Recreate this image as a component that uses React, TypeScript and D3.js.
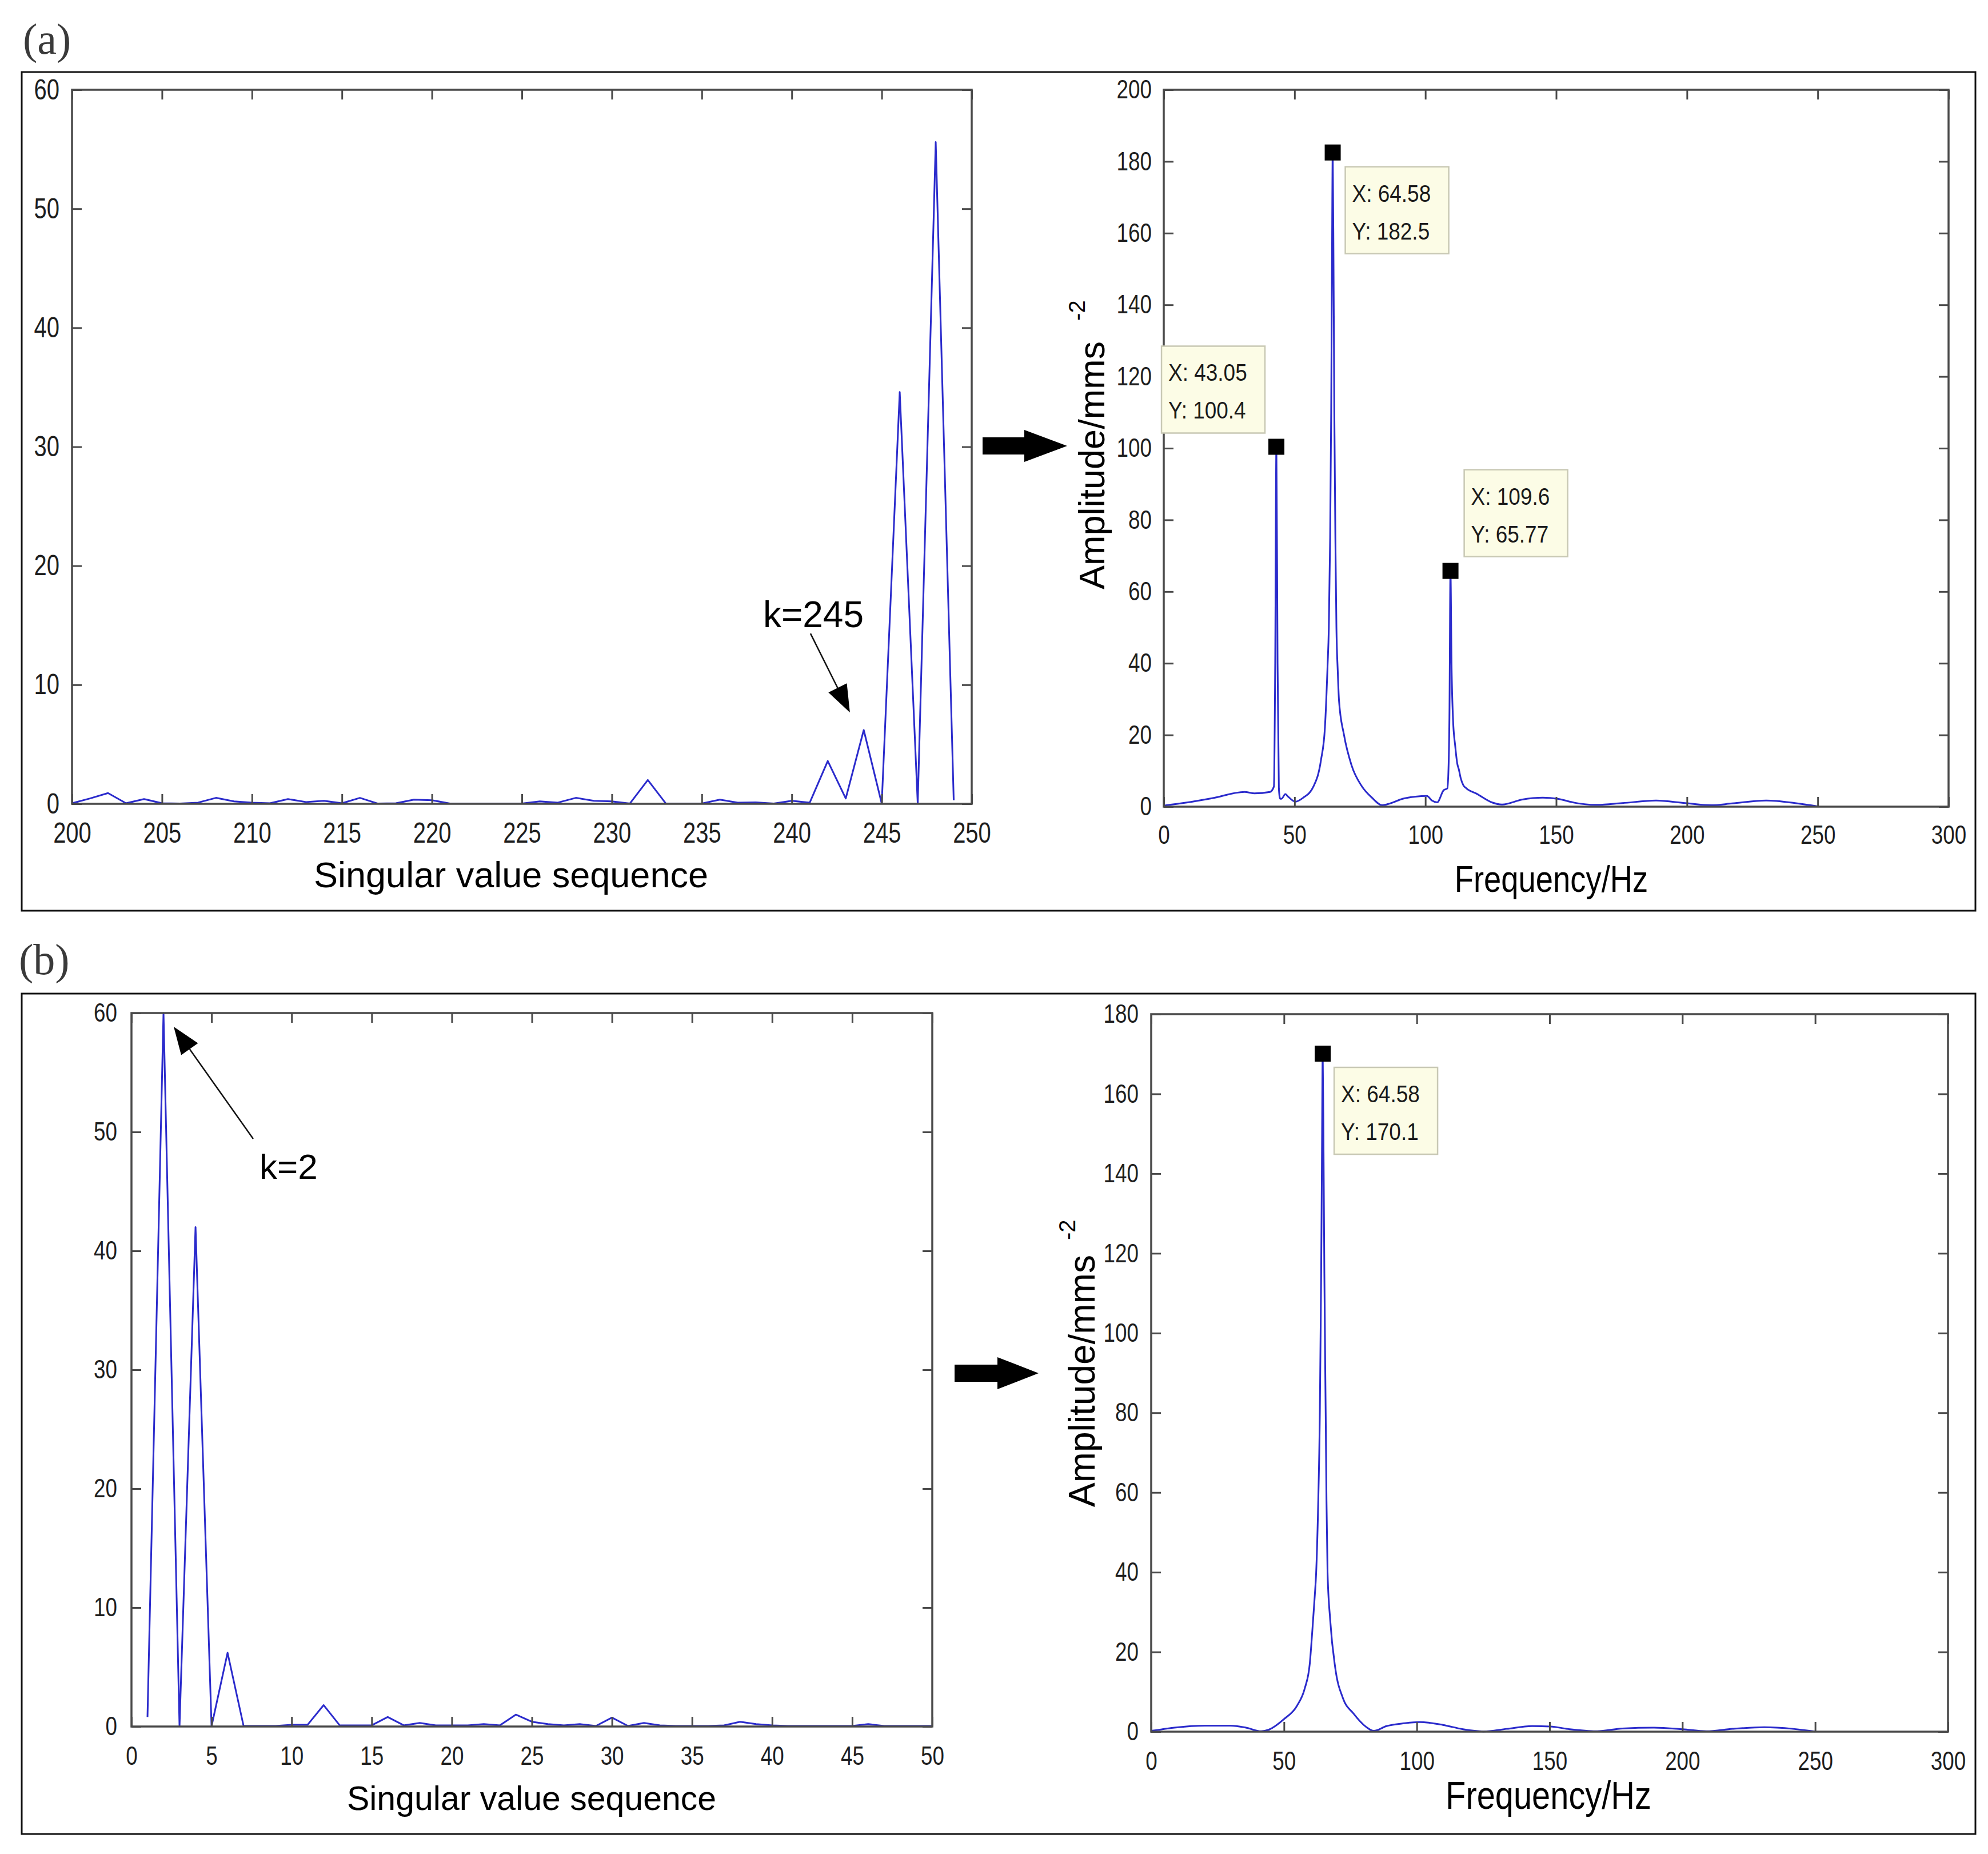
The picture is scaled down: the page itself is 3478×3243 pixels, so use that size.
import React, { useEffect, useRef } from "react";
import * as d3 from "d3";

const WIDTH = 3478;
const HEIGHT = 3243;

// (a) singular values, sequence index 200..249
const svStartA = 200;
const svValuesA = [
  0.05, 0.45, 0.9, 0.05, 0.4, 0.05, 0.03, 0.1, 0.5, 0.2,
  0.1, 0.05, 0.4, 0.15, 0.25, 0.05, 0.5, 0.02, 0.05, 0.35,
  0.3, 0.03, 0.02, 0.02, 0.02, 0.03, 0.2, 0.1, 0.5, 0.25,
  0.2, 0.02, 2.0, 0.03, 0.02, 0.03, 0.35, 0.1, 0.12, 0.02,
  0.25, 0.1, 3.6, 0.45, 6.2, 0.02, 34.6, 0.02, 55.6, 0.3,
];

// (b) singular values, sequence index 1..50
const svStartB = 1;
const svValuesB = [
  0.8, 60, 0.02, 42, 0.02, 6.2, 0.05, 0.05, 0.05, 0.15,
  0.15, 1.8, 0.1, 0.1, 0.1, 0.8, 0.1, 0.3, 0.1, 0.1,
  0.1, 0.2, 0.1, 1.0, 0.4, 0.2, 0.1, 0.2, 0.05, 0.75,
  0.05, 0.3, 0.1, 0.05, 0.05, 0.05, 0.1, 0.4, 0.2, 0.1,
  0.05, 0.05, 0.05, 0.05, 0.05, 0.2, 0.05, 0.05, 0.05, 0.05,
];

// amplitude spectra [frequency Hz, amplitude]
const spectrumA: [number, number][] = [
  [0, 0.3], [8.4, 1.1], [18.2, 2.3], [30.9, 4.1], [34.7, 3.7], [40.6, 4.1],
  [42.1, 5.6], [42.6, 40], [43.05, 100.4], [43.5, 40], [44.0, 5], [44.5, 2.2],
  [45.0, 2.2], [46.5, 3.5], [47.4, 2.9], [50.3, 1.4], [53.3, 2.5], [57.2, 5.6],
  [60.1, 13], [61.6, 22], [62.6, 39], [63.1, 50], [63.6, 75], [64.0, 110],
  [64.3, 150], [64.58, 182.5], [64.9, 150], [65.2, 110], [65.6, 75], [66.0, 50],
  [66.5, 38], [67.0, 29.5], [68.9, 20], [71.8, 11.5], [75.7, 5.7], [79.6, 2.5],
  [83.5, 0.4], [86.5, 0.9], [91.3, 2.2], [96.2, 2.8], [100.6, 3.0], [102.5, 1.7],
  [104.5, 1.2], [107.0, 4.6], [108.4, 5.1], [108.9, 12], [109.2, 25], [109.6, 65.77],
  [110.0, 40], [110.6, 24], [111.4, 17], [112.2, 12], [112.8, 10.4], [113.5, 8],
  [114.5, 6], [115.7, 5.1], [119.6, 3.6], [125.4, 1.2], [129.3, 0.6], [137.1, 2.0],
  [144.9, 2.5], [150.5, 2.2], [157, 1.1], [165, 0.5], [175.3, 1.0], [188.2, 1.7],
  [199.3, 1.0], [209.3, 0.4], [217.3, 0.9], [230.3, 1.7], [241.3, 1.0], [250, 0.1],
];

const spectrumB: [number, number][] = [
  [0, 0.2], [8.7, 1.0], [20.3, 1.5], [29.9, 1.5], [35.7, 1.0], [41.4, 0.1],
  [44.3, 0.5], [50.1, 3.2], [54.9, 6.5], [57.8, 10.8], [59.7, 17], [60.7, 25.6],
  [61.6, 34.2], [62.1, 39.7], [62.8, 55], [63.5, 80], [64.0, 115], [64.3, 145],
  [64.58, 170.1], [64.9, 145], [65.2, 115], [65.7, 80], [66.0, 58], [66.4, 40],
  [67.4, 28], [69.3, 16], [72.2, 8.4], [76.1, 4.6], [80.9, 1.2], [83.8, 0.2],
  [88.6, 1.4], [95.3, 2.1], [101.1, 2.4], [109.8, 1.7], [117.4, 0.6], [125.1, 0.05],
  [133.8, 0.7], [143.4, 1.4], [150.2, 1.3], [157.6, 0.6], [167.5, 0.1], [177.4, 0.8],
  [189.3, 1.0], [200.1, 0.6], [209.0, 0.1], [218.9, 0.7], [230.8, 1.1], [241.7, 0.7],
  [250, 0.05],
];

// data tips (values shown in the boxes)
const tipsA = [
  { x: 64.58, y: 182.5 },
  { x: 43.05, y: 100.4 },
  { x: 109.6, y: 65.77 },
];
const tipsB = [{ x: 64.58, y: 170.1 }];

// tick values
const svTicksA = [200, 205, 210, 215, 220, 225, 230, 235, 240, 245, 250];
const svTicksB = [0, 5, 10, 15, 20, 25, 30, 35, 40, 45, 50];
const svYTicks = [0, 10, 20, 30, 40, 50, 60];
const freqTicks = [0, 50, 100, 150, 200, 250, 300];
const ampTicksA = [0, 20, 40, 60, 80, 100, 120, 140, 160, 180, 200];
const ampTicksB = [0, 20, 40, 60, 80, 100, 120, 140, 160, 180];

// annotations, in data units of the singular value plots
const noteA = { label: "k=245", tip: [243.23, 7.68], tail: [241.04, 14.31], text: [241.2, 14.84] };
const noteB = { label: "k=2", tip: [2.64, 58.85], tail: [7.6, 49.42], text: [9.81, 46.06] };

// ---- layout (pixels) ----
const tipOffsetsA = [
  { dx: 22, dy: 25 },
  { dx: -201, dy: -176 },
  { dx: 24, dy: -177 },
];
const tipOffsetsB = [{ dx: 20, dy: 24 }];

const FRAME = "#4a4a4a";
const LINE = "#2b2bcc";
const SANS = "'Liberation Sans', Arial, Helvetica, sans-serif";
const SERIF = "'Liberation Serif', 'Times New Roman', serif";

type Sel = d3.Selection<any, unknown, null, undefined>;

// squeeze text horizontally (the original uses a narrow MATLAB font)
const condense = (sel: d3.Selection<any, any, any, any>, k: number) => {
  sel.each(function (this: SVGTextElement) {
    const w = this.getComputedTextLength();
    if (w > 0) {
      d3.select(this).attr("textLength", w * k).attr("lengthAdjust", "spacingAndGlyphs");
    }
  });
};

const drawFrame = (
  svg: Sel,
  x: d3.ScaleLinear<number, number>,
  y: d3.ScaleLinear<number, number>,
  xTicks: number[],
  yTicks: number[],
  tickFont: number,
  xPad: number,
  yPad: number
) => {
  const g = svg.append("g");
  const [x0, x1] = x.range();
  const [y0, y1] = y.range();
  const tickLen = 17;

  g.append("g")
    .attr("transform", `translate(0,${y0})`)
    .call(d3.axisBottom(x).tickValues(xTicks).tickSizeInner(-tickLen).tickSizeOuter(0).tickPadding(xPad));
  g.append("g")
    .attr("transform", `translate(0,${y1})`)
    .call(d3.axisTop(x).tickValues(xTicks).tickSizeInner(-tickLen).tickSizeOuter(0).tickFormat(() => ""));
  g.append("g")
    .attr("transform", `translate(${x0},0)`)
    .call(d3.axisLeft(y).tickValues(yTicks).tickSizeInner(-tickLen).tickSizeOuter(0).tickPadding(yPad));
  g.append("g")
    .attr("transform", `translate(${x1},0)`)
    .call(d3.axisRight(y).tickValues(yTicks).tickSizeInner(-tickLen).tickSizeOuter(0).tickFormat(() => ""));

  g.selectAll(".domain").remove();
  g.selectAll(".tick line").attr("stroke", FRAME).attr("stroke-width", 3);
  const labels = g
    .selectAll(".tick text")
    .attr("font-family", SANS)
    .attr("font-size", tickFont)
    .attr("fill", "#1e1e1e");
  condense(labels, 0.8);

  g.append("rect")
    .attr("x", x0)
    .attr("y", y1)
    .attr("width", x1 - x0)
    .attr("height", y0 - y1)
    .attr("fill", "none")
    .attr("stroke", FRAME)
    .attr("stroke-width", 3.5);
};

const drawBlockArrow = (svg: Sel, a: { x0: number; xh: number; x1: number; y: number }) => {
  const shaft = 15;
  const head = 28;
  const pts = [
    [a.x0, a.y - shaft],
    [a.xh, a.y - shaft],
    [a.xh, a.y - head],
    [a.x1, a.y],
    [a.xh, a.y + head],
    [a.xh, a.y + shaft],
    [a.x0, a.y + shaft],
  ];
  svg.append("polygon").attr("points", pts.map((p) => p.join(",")).join(" ")).attr("fill", "#000");
};

const drawNote = (
  svg: Sel,
  x: d3.ScaleLinear<number, number>,
  y: d3.ScaleLinear<number, number>,
  note: { label: string; tip: number[]; tail: number[]; text: number[] },
  fontSize: number
) => {
  const tx = x(note.tip[0]);
  const ty = y(note.tip[1]);
  const sx = x(note.tail[0]);
  const sy = y(note.tail[1]);
  const ang = Math.atan2(ty - sy, tx - sx);
  const len = 48;
  const half = 18;
  const bx = tx - len * Math.cos(ang);
  const by = ty - len * Math.sin(ang);
  svg
    .append("line")
    .attr("x1", sx)
    .attr("y1", sy)
    .attr("x2", bx)
    .attr("y2", by)
    .attr("stroke", "#111")
    .attr("stroke-width", 2.5);
  const head = [
    [tx, ty],
    [bx + half * Math.sin(ang), by - half * Math.cos(ang)],
    [bx - half * Math.sin(ang), by + half * Math.cos(ang)],
  ];
  svg.append("polygon").attr("points", head.map((p) => p.join(",")).join(" ")).attr("fill", "#000");
  svg
    .append("text")
    .attr("x", x(note.text[0]))
    .attr("y", y(note.text[1]))
    .attr("text-anchor", "middle")
    .attr("font-family", SANS)
    .attr("font-size", fontSize)
    .attr("fill", "#000")
    .text(note.label);
};

const drawTips = (
  svg: Sel,
  x: d3.ScaleLinear<number, number>,
  y: d3.ScaleLinear<number, number>,
  tips: { x: number; y: number }[],
  offsets: { dx: number; dy: number }[]
) => {
  tips.forEach((t, i) => {
    const cx = x(t.x);
    const cy = y(t.y);
    const bx = cx + offsets[i].dx;
    const by = cy + offsets[i].dy;
    svg
      .append("rect")
      .attr("x", bx)
      .attr("y", by)
      .attr("width", 181)
      .attr("height", 152)
      .attr("fill", "#fcfce6")
      .attr("stroke", "#c8c8b4")
      .attr("stroke-width", 2.5);
    const lines = [`X: ${t.x}`, `Y: ${t.y}`];
    lines.forEach((s, j) => {
      const txt = svg
        .append("text")
        .attr("x", bx + 12)
        .attr("y", by + 61 + j * 66)
        .attr("font-family", SANS)
        .attr("font-size", 42)
        .attr("fill", "#1a1a1a")
        .text(s);
      condense(txt, 0.88);
    });
    svg
      .append("rect")
      .attr("x", cx - 14)
      .attr("y", cy - 14)
      .attr("width", 28)
      .attr("height", 28)
      .attr("fill", "#000");
  });
};

const drawAmpLabel = (svg: Sel, x: number, y: number, fontSize: number, gap: number) => {
  const t = svg
    .append("text")
    .attr("transform", `translate(${x},${y}) rotate(-90)`)
    .attr("font-family", SANS)
    .attr("font-size", fontSize)
    .attr("fill", "#000")
    .text("Amplitude/mms");
  t.append("tspan").attr("dx", gap).attr("dy", -34).attr("font-size", 40).text("-2");
};

const App = () => {
  const svgRef = useRef<SVGSVGElement>(null);

  useEffect(() => {
    document.body.style.margin = "0";
    const svg = d3.select(svgRef.current) as Sel;
    svg.selectAll("*").remove();

    svg.append("rect").attr("width", WIDTH).attr("height", HEIGHT).attr("fill", "#fff");

    // outer panel boxes
    [
      [38, 126, 3418, 1467],
      [38, 1738, 3418, 1470],
    ].forEach(([bx, by, bw, bh]) => {
      svg
        .append("rect")
        .attr("x", bx)
        .attr("y", by)
        .attr("width", bw)
        .attr("height", bh)
        .attr("fill", "none")
        .attr("stroke", "#111")
        .attr("stroke-width", 3);
    });

    // panel letters
    [
      ["(a)", 40, 94],
      ["(b)", 33, 1704],
    ].forEach(([s, px, py]) => {
      svg
        .append("text")
        .attr("x", px as number)
        .attr("y", py as number)
        .attr("font-family", SERIF)
        .attr("font-size", 76)
        .attr("fill", "#3a3a3a")
        .text(s as string);
    });

    const svLine = (start: number, x: d3.ScaleLinear<number, number>, y: d3.ScaleLinear<number, number>) =>
      d3
        .line<number>()
        .x((_, i) => x(start + i))
        .y((d) => y(d));

    const specLine = (x: d3.ScaleLinear<number, number>, y: d3.ScaleLinear<number, number>) =>
      d3
        .line<[number, number]>()
        .x((d) => x(d[0]))
        .y((d) => y(d[1]))
        .curve(d3.curveMonotoneX);

    const freqTitle = (cx: number, cy: number, size: number) => {
      const t = svg
        .append("text")
        .attr("x", cx)
        .attr("y", cy)
        .attr("text-anchor", "middle")
        .attr("font-family", SANS)
        .attr("font-size", size)
        .attr("fill", "#000")
        .text("Frequency/Hz");
      condense(t, 0.85);
    };

    // ---------- (a) left ----------
    const xA = d3.scaleLinear().domain([200, 250]).range([126, 1700]);
    const yA = d3.scaleLinear().domain([0, 60]).range([1406, 157]);
    svg
      .append("path")
      .datum(svValuesA)
      .attr("d", svLine(svStartA, xA, yA))
      .attr("fill", "none")
      .attr("stroke", LINE)
      .attr("stroke-width", 3)
      .attr("stroke-linejoin", "round");
    drawFrame(svg, xA, yA, svTicksA, svYTicks, 50, 32, 22);
    svg
      .append("text")
      .attr("x", 894)
      .attr("y", 1552)
      .attr("text-anchor", "middle")
      .attr("font-family", SANS)
      .attr("font-size", 63)
      .attr("fill", "#000")
      .text("Singular value sequence");
    drawNote(svg, xA, yA, noteA, 64);

    drawBlockArrow(svg, { x0: 1719, xh: 1792, x1: 1867, y: 780 });

    // ---------- (a) right ----------
    const fA = d3.scaleLinear().domain([0, 300]).range([2036, 3409]);
    const aA = d3.scaleLinear().domain([0, 200]).range([1411, 157]);
    svg
      .append("path")
      .datum(spectrumA)
      .attr("d", specLine(fA, aA))
      .attr("fill", "none")
      .attr("stroke", LINE)
      .attr("stroke-width", 3)
      .attr("stroke-linejoin", "round");
    drawFrame(svg, fA, aA, freqTicks, ampTicksA, 46, 32, 21);
    freqTitle(2714, 1560, 64);
    drawAmpLabel(svg, 1932, 1031, 63, 36);
    drawTips(svg, fA, aA, tipsA, tipOffsetsA);

    // ---------- (b) left ----------
    const xB = d3.scaleLinear().domain([0, 50]).range([230, 1631]);
    const yB = d3.scaleLinear().domain([0, 60]).range([3020, 1772]);
    svg
      .append("path")
      .datum(svValuesB)
      .attr("d", svLine(svStartB, xB, yB))
      .attr("fill", "none")
      .attr("stroke", LINE)
      .attr("stroke-width", 3)
      .attr("stroke-linejoin", "round");
    drawFrame(svg, xB, yB, svTicksB, svYTicks, 46, 34, 25);
    svg
      .append("text")
      .attr("x", 930)
      .attr("y", 3166)
      .attr("text-anchor", "middle")
      .attr("font-family", SANS)
      .attr("font-size", 59)
      .attr("fill", "#000")
      .text("Singular value sequence");
    drawNote(svg, xB, yB, noteB, 62);

    drawBlockArrow(svg, { x0: 1670, xh: 1745, x1: 1817, y: 2402 });

    // ---------- (b) right ----------
    const fB = d3.scaleLinear().domain([0, 300]).range([2014, 3408]);
    const aB = d3.scaleLinear().domain([0, 180]).range([3029, 1774]);
    svg
      .append("path")
      .datum(spectrumB)
      .attr("d", specLine(fB, aB))
      .attr("fill", "none")
      .attr("stroke", LINE)
      .attr("stroke-width", 3)
      .attr("stroke-linejoin", "round");
    drawFrame(svg, fB, aB, freqTicks, ampTicksB, 46, 34, 22);
    freqTitle(2709, 3164, 68);
    drawAmpLabel(svg, 1915, 2636, 64, 26);
    drawTips(svg, fB, aB, tipsB, tipOffsetsB);
  }, []);

  return (
    <svg
      ref={svgRef}
      width={WIDTH}
      height={HEIGHT}
      style={{ display: "block", position: "absolute", left: 0, top: 0 }}
    />
  );
};

export default App;
